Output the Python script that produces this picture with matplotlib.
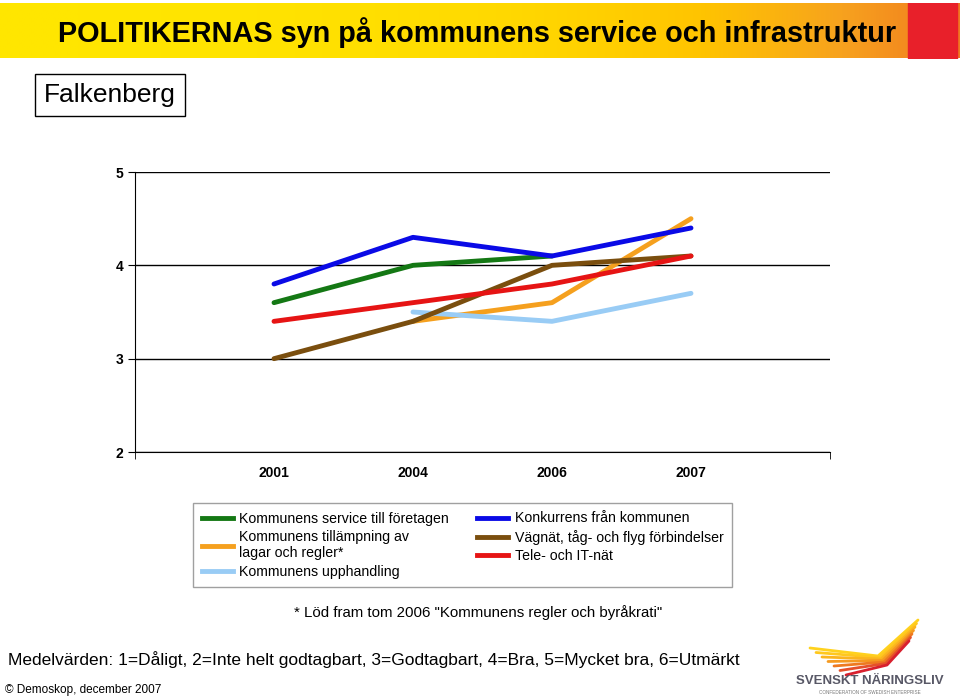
import numpy as np
import matplotlib.pyplot as plt
from matplotlib.lines import Line2D
from matplotlib.colors import LinearSegmentedColormap

# data
years = ['2001', '2004', '2006', '2007']
service = [3.6, 4.0, 4.1, np.nan]
tillampning = [np.nan, 3.4, 3.6, 4.5]
upphandling = [np.nan, 3.5, 3.4, 3.7]
konkurrens = [3.8, 4.3, 4.1, 4.4]
vagnat = [3.0, 3.4, 4.0, 4.1]
tele = [3.4, 3.6, 3.8, 4.1]

series = [
    ('Kommunens service till företagen', service, '#147814'),
    ('Kommunens tillämpning av\nlagar och regler*', tillampning, '#F5A01E'),
    ('Kommunens upphandling', upphandling, '#99CCF5'),
    ('Konkurrens från kommunen', konkurrens, '#0A0AE6'),
    ('Vägnät, tåg- och flyg förbindelser', vagnat, '#7A4E0E'),
    ('Tele- och IT-nät', tele, '#E61414'),
]

plt.rcParams['font.family'] = ['Liberation Sans', 'DejaVu Sans']

fig = plt.figure(figsize=(9.6, 6.98), dpi=100)

# rubrikband med gradient
band = fig.add_axes([0, 1 - 58 / 698, 1, 55 / 698])
grad = LinearSegmentedColormap.from_list('band', ['#FFE600', '#FFD800', '#FFC400', '#F7A21E', '#F07820'])
g = np.linspace(0, 1, 400) ** 2.2
band.imshow(np.tile(g, (10, 1)), cmap=grad, aspect='auto', extent=[0, 960, 0, 1])
band.fill_between([908, 957], 0, 1, color='#E8202A')
band.set_xlim(0, 960)
band.set_ylim(0, 1)
band.axis('off')
fig.text(58 / 960, 1 - 33 / 698, 'POLITIKERNAS syn på kommunens service och infrastruktur',
         fontsize=20.8, fontweight='bold', va='center', ha='left')

fig.text(44 / 960, 1 - 95 / 698, 'Falkenberg', fontsize=19, va='center', ha='left',
         bbox=dict(boxstyle='square,pad=0.35', fc='white', ec='black', lw=1))

ax = fig.add_axes([135 / 960, 1 - 452 / 698, 695 / 960, 280 / 698])
x = np.arange(1, len(years) + 1)
for name, vals, col in series:
    ax.plot(x, vals, color=col, lw=3.5, solid_capstyle='round', label=name)

ax.set_xlim(0, 5)
ax.set_ylim(2, 5)
ax.set_yticks([2, 3, 4, 5])
ax.set_xticks(np.arange(0, 6), minor=True)
ax.set_xticks(x)
ax.set_xticklabels(years)
ax.tick_params(axis='x', which='major', length=0, pad=10)
ax.tick_params(axis='x', which='minor', length=5, direction='out')
ax.tick_params(axis='y', length=5, direction='out')
for lab in ax.get_xticklabels() + ax.get_yticklabels():
    lab.set_fontweight('bold')
    lab.set_fontsize(10)
ax.yaxis.grid(True, color='black', lw=1)
ax.set_axisbelow(True)
for s in ['top', 'right']:
    ax.spines[s].set_visible(False)

handles = [Line2D([], [], color=c, lw=3.5) for _, _, c in series]
labels = [n for n, _, _ in series]
leg = fig.legend(handles, labels, ncol=2, loc='upper left',
                 bbox_to_anchor=(193 / 960, 1 - 503 / 698), borderaxespad=0, fontsize=10.2,
                 frameon=True, fancybox=False, edgecolor='#888888', handlelength=2.2,
                 columnspacing=2.0, labelspacing=0.3, borderpad=0.6, handletextpad=0.45)
leg.get_frame().set_linewidth(1)
for t in leg.get_texts():
    t.set_linespacing(1.25)

fig.text(478 / 960, 1 - 613 / 698, '* Löd fram tom 2006 "Kommunens regler och byråkrati"',
         fontsize=10.8, ha='center', va='center')
fig.text(8 / 960, 1 - 660 / 698,
         'Medelvärden: 1=Dåligt, 2=Inte helt godtagbart, 3=Godtagbart, 4=Bra, 5=Mycket bra, 6=Utmärkt',
         fontsize=12.5, ha='left', va='center')
fig.text(5 / 960, 1 - 690 / 698, '© Demoskop, december 2007', fontsize=8.5, ha='left', va='center')

# logga
logo = fig.add_axes([790 / 960, 0, 170 / 960, 90 / 698])
logo.set_xlim(0, 170)
logo.set_ylim(0, 90)
logo.axis('off')
wing_cols = ['#FFD21E', '#FFC81E', '#FBB41E', '#F59A20', '#EE7A20', '#E5502A', '#D8202E']
for i, c in enumerate(wing_cols):
    logo.plot([20 + i * 6, 88 + i * 1.5, 128 - i * 1.5], [50 - i * 4.5, 42 - i * 1.5, 78 - i * 3.5],
              color=c, lw=2, solid_capstyle='round')
logo.text(80, 17, 'SVENSKT NÄRINGSLIV', fontsize=9.5, fontweight='bold', color='#585866',
          ha='center', va='center')
logo.text(80, 6, 'CONFEDERATION OF SWEDISH ENTERPRISE', fontsize=3.3, color='#777777',
          ha='center', va='center')

fig.savefig('out.png', dpi=100)
